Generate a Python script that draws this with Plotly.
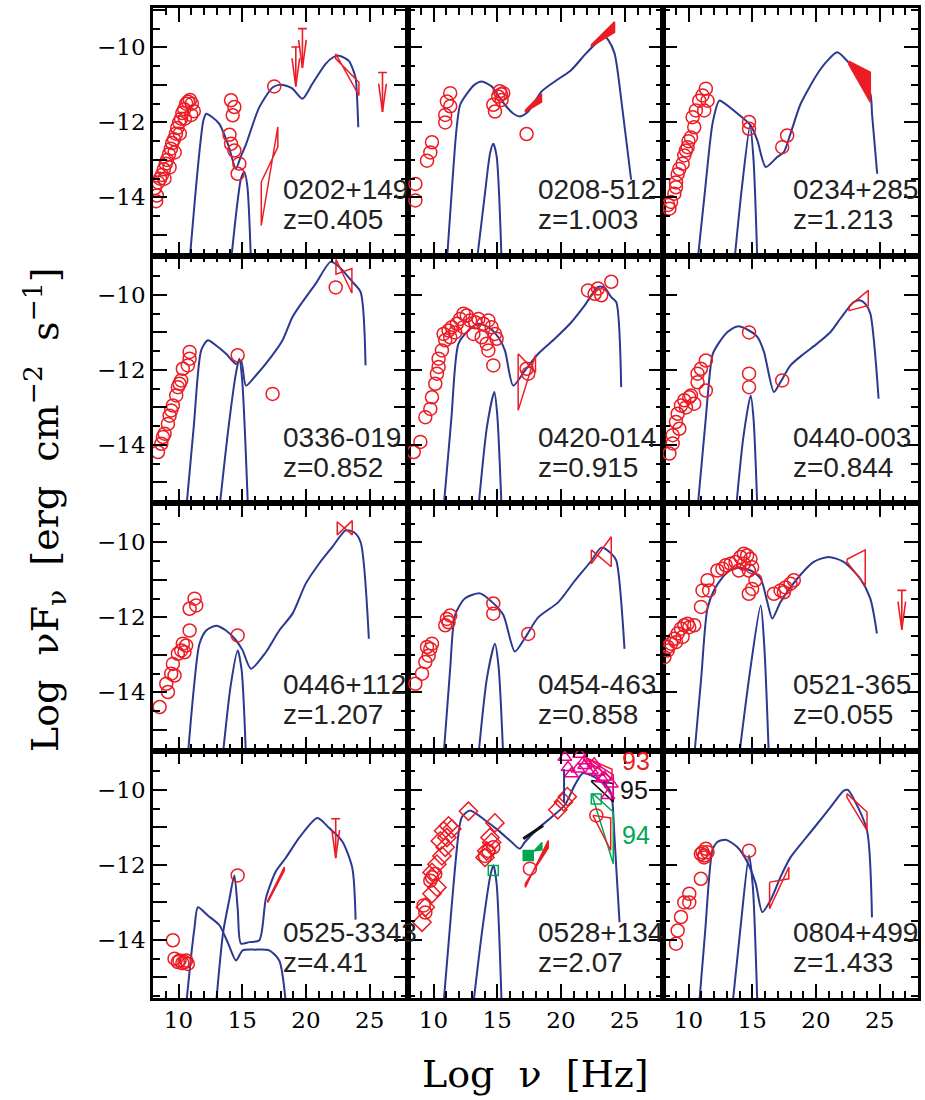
import plotly.graph_objects as go
from plotly.subplots import make_subplots

RED = "#ec1c24"
BLUE = "#2b3990"
GREEN = "#00a651"
MAGENTA = "#ec008c"
BLACK = "#111111"

SOURCES = ["0202+149", "0208-512", "0234+285", "0336-019", "0420-014", "0440-003",
           "0446+112", "0454-463", "0521-365", "0525-3343", "0528+134", "0804+499"]
REDSHIFTS = ["z=0.405", "z=1.003", "z=1.213", "z=0.852", "z=0.915", "z=0.844",
             "z=1.207", "z=0.858", "z=0.055", "z=4.41", "z=2.07", "z=1.433"]

X_RANGE = [8, 28]
Y_RANGE = [-15.55, -8.95]
X_TICKS = [10, 15, 20, 25]
Y_TICKS = [-15, -14, -13, -12, -11, -10, -9]
Y_TICKTEXT = ["", "\u221214", "", "\u221212", "", "\u221210", ""]

# ---------------- 0202+149 ----------------
P1_CIRCLES = [(8.15, -13.75), (8.3, -13.95), (8.25, -14.1), (8.4, -13.6), (8.55, -13.5), (8.7, -13.4),
              (8.85, -13.25), (9.0, -13.1), (9.1, -13.0), (9.25, -12.85), (9.4, -12.7), (9.5, -12.55),
              (9.65, -12.45), (9.8, -12.3), (9.9, -12.15), (10.05, -12.0), (10.2, -11.9), (10.3, -11.75),
              (10.45, -11.65), (10.6, -11.5), (10.75, -11.45), (10.9, -11.4), (11.05, -11.5), (11.0, -11.8),
              (11.2, -11.7), (10.5, -11.9), (10.1, -12.3), (9.7, -12.8), (9.3, -13.2), (8.9, -13.5),
              (14.12, -11.41), (14.38, -11.59), (14.25, -11.81), (14.0, -12.33), (14.12, -12.57),
              (14.38, -12.75), (14.77, -13.1), (14.64, -13.37), (17.51, -11.04)]
P1_MODEL = [(10.87, -15.7), (11.3, -14.0), (11.7, -12.6), (11.95, -11.95), (12.17, -11.77), (12.6, -11.85),
            (13.2, -12.04), (13.9, -12.6), (14.5, -13.23), (14.9, -12.9), (15.3, -12.58), (16.33, -11.6),
            (17.38, -11.07), (17.9, -11.0), (18.5, -11.03), (18.94, -11.1), (19.72, -11.37), (20.5, -10.97),
            (21.54, -10.44), (22.1, -10.27), (22.58, -10.22), (23.36, -10.36), (23.88, -10.8), (24.0, -11.3),
            (24.1, -12.13)]
P1_DISK = [(14.12, -15.7), (14.6, -14.2), (14.9, -13.5), (15.16, -13.32), (15.4, -13.7), (15.68, -15.7)]
P1_BOWTIES = [(16.49, 17.79, -13.59, -12.66, -14.75, -12.12, RED, False),
              (22.33, 24.15, -10.17, -11.28, -10.3, -10.93, RED, False)]
P1_LIMITS = [(19.72, -9.5), (19.2, -9.99), (26.0, -10.67)]

# ---------------- 0208-512 ----------------
P2_CIRCLES = [(8.58, -13.64), (8.58, -14.08), (9.49, -13.02), (9.75, -12.8), (9.88, -12.53), (10.92, -12.0),
              (10.92, -11.8), (11.05, -11.44), (11.31, -11.57), (11.31, -11.22), (14.69, -11.53),
              (14.82, -11.71), (15.08, -11.31), (15.2, -11.17), (15.34, -11.4), (15.47, -11.22),
              (15.3, -11.25), (17.3, -12.31)]
P2_MODEL = [(11.05, -15.7), (11.5, -13.5), (11.8, -12.2), (12.09, -11.53), (12.74, -11.18), (13.2, -11.0),
            (13.78, -10.91), (14.56, -11.04), (15.1, -11.3), (15.6, -11.53), (16.2, -11.75), (16.77, -11.84),
            (17.43, -11.71), (18.47, -11.18), (19.51, -10.91), (20.81, -10.6), (21.86, -10.2), (22.9, -9.84),
            (23.42, -9.71), (23.7, -9.8), (24.2, -10.16), (24.8, -11.6), (25.5, -13.53)]
P2_DISK = [(13.4, -15.7), (14.0, -14.0), (14.45, -12.8), (14.69, -12.57), (14.95, -12.9), (15.34, -15.7)]
P2_BOWTIES = [(17.2, 18.47, -11.68, -11.24, -11.72, -11.46, RED, True),
              (22.38, 24.2, -9.93, -9.32, -9.98, -9.6, RED, True)]
P2_LIMITS = []

# ---------------- 0234+285 ----------------
P3_CIRCLES = [(8.5, -14.3), (8.63, -14.12), (8.89, -13.9), (9.02, -13.6), (9.15, -13.38), (9.54, -13.1),
              (9.67, -12.88), (9.93, -12.66), (10.19, -12.4), (10.45, -12.13), (10.32, -11.86), (10.58, -11.68),
              (10.84, -11.42), (11.1, -11.28), (11.36, -11.1), (11.49, -11.42), (11.23, -11.68), (9.02, -13.73),
              (9.28, -13.24), (8.4, -14.2), (9.8, -12.75), (10.0, -12.5), (14.75, -11.99), (14.75, -12.17),
              (17.74, -12.35), (17.35, -12.66)]
P3_MODEL = [(10.71, -15.7), (11.3, -13.8), (11.9, -12.0), (12.42, -11.42), (12.68, -11.46), (13.86, -11.77),
            (14.88, -12.08), (15.4, -12.48), (16.06, -13.19), (16.97, -12.92), (17.48, -12.79), (18.0, -12.3),
            (18.79, -11.51), (20.1, -10.71), (20.88, -10.36), (21.66, -10.13), (22.44, -10.36), (23.48, -10.84),
            (24.26, -11.24), (24.4, -11.8), (24.8, -13.37)]
P3_DISK = [(13.6, -15.7), (14.2, -13.7), (14.83, -12.08), (15.1, -13.0), (15.4, -15.7)]
P3_BOWTIES = [(22.57, 24.26, -10.37, -10.66, -10.45, -11.46, RED, True)]
P3_LIMITS = []

# ---------------- 0336-019 ----------------
P4_CIRCLES = [(8.39, -14.19), (8.65, -13.97), (8.91, -13.7), (9.17, -13.44), (9.3, -13.22), (9.56, -12.95),
              (9.82, -12.68), (9.95, -12.46), (10.21, -12.28), (10.34, -11.97), (10.73, -11.88), (10.87, -11.7),
              (10.87, -11.52), (10.08, -12.37), (9.43, -13.08), (8.78, -13.79), (14.64, -11.61), (17.38, -12.64),
              (22.33, -9.8)]
P4_MODEL = [(10.61, -15.7), (11.2, -13.5), (11.78, -11.48), (12.3, -11.21), (12.95, -11.35), (13.73, -11.57),
            (14.51, -11.84), (14.9, -11.75), (15.29, -12.42), (16.07, -12.15), (17.25, -11.66), (18.16, -11.21),
            (18.94, -10.59), (19.72, -10.19), (20.76, -9.7), (21.93, -9.12), (22.59, -9.25), (23.63, -9.65),
            (24.28, -9.92), (24.67, -11.88)]
P4_DISK = [(13.21, -15.7), (13.9, -13.6), (14.5, -12.1), (14.77, -11.7), (15.0, -12.3), (15.45, -15.7)]
P4_BOWTIES = [(22.35, 23.6, -9.05, -9.95, -9.45, -9.3, RED, False)]
P4_LIMITS = []

# ---------------- 0420-014 ----------------
P5_CIRCLES = [(8.45, -14.19), (8.97, -13.92), (9.36, -13.26), (9.75, -13.04), (9.88, -12.73), (10.14, -12.37),
              (10.27, -12.1), (10.4, -11.92), (10.4, -11.7), (10.66, -11.48), (10.92, -11.21), (10.79, -11.04),
              (11.18, -10.95), (11.44, -10.86), (11.83, -10.77), (12.09, -10.64), (12.35, -10.5), (12.61, -10.55),
              (12.87, -10.68), (13.26, -10.73), (13.52, -10.64), (13.91, -10.77), (14.3, -10.68), (14.56, -10.86),
              (14.82, -11.04), (14.17, -11.3), (14.3, -11.48), (14.69, -11.88), (11.31, -11.13), (11.7, -11.0),
              (13.13, -11.04), (13.78, -11.13), (14.95, -11.17), (12.35, -10.86), (17.3, -11.97), (17.43, -12.1),
              (22.12, -9.88), (22.64, -9.97), (23.16, -10.01), (23.94, -9.65), (22.9, -9.83)]
P5_MODEL = [(10.79, -15.7), (11.4, -13.3), (11.96, -11.3), (12.74, -10.95), (13.52, -10.77), (14.3, -10.86),
            (15.08, -11.13), (15.6, -11.48), (16.25, -12.42), (17.17, -12.02), (18.21, -11.57), (19.51, -11.17),
            (20.81, -10.73), (21.86, -10.28), (22.9, -9.79), (23.4, -9.8), (23.94, -10.06), (24.33, -10.19),
            (24.72, -12.46)]
P5_DISK = [(13.52, -15.7), (14.2, -13.5), (14.77, -12.59), (15.0, -13.2), (15.34, -15.7)]
P5_BOWTIES = [(16.64, 18.0, -11.57, -12.06, -13.08, -11.6, RED, False)]
P5_LIMITS = []

# ---------------- 0440-003 ----------------
P6_CIRCLES = [(8.5, -14.23), (8.76, -13.96), (8.76, -13.74), (9.02, -13.39), (9.15, -13.17), (9.41, -12.95),
              (9.67, -12.81), (10.06, -12.73), (10.45, -12.9), (10.19, -12.68), (10.71, -12.33), (10.71, -12.1),
              (10.97, -11.97), (11.36, -11.75), (11.36, -12.55), (9.28, -13.57), (9.8, -13.0), (14.75, -11.0),
              (14.75, -12.1), (14.75, -12.46), (17.35, -12.28)]
P6_MODEL = [(10.71, -15.7), (11.3, -13.5), (11.88, -11.6), (12.27, -11.34), (13.06, -10.99), (13.84, -10.84),
            (14.75, -10.95), (15.4, -11.12), (15.92, -11.52), (16.7, -12.59), (17.22, -12.32), (18.0, -11.88),
            (19.05, -11.57), (20.09, -11.3), (21.14, -10.99), (21.92, -10.63), (22.96, -10.19), (23.5, -10.15),
            (23.87, -10.24), (24.26, -10.5), (24.91, -12.77)]
P6_DISK = [(13.73, -15.7), (14.3, -13.8), (14.88, -12.68), (15.1, -13.3), (15.4, -15.7)]
P6_BOWTIES = [(22.6, 24.1, -10.3, -9.88, -10.42, -10.28, RED, False)]
P6_LIMITS = []

# ---------------- 0446+112 ----------------
P7_CIRCLES = [(8.52, -14.39), (9.17, -13.99), (9.04, -13.77), (9.43, -13.5), (9.69, -13.55), (9.56, -13.24),
              (9.95, -12.97), (10.21, -12.88), (10.47, -12.93), (10.34, -12.7), (10.6, -12.75), (10.87, -12.35),
              (10.87, -11.77), (11.26, -11.5), (11.39, -11.68), (14.64, -12.48)]
P7_MODEL = [(10.73, -15.7), (11.2, -13.9), (11.64, -12.71), (12.17, -12.35), (12.95, -12.22), (13.73, -12.35),
            (14.51, -12.61), (15.03, -12.88), (15.68, -13.37), (16.85, -12.93), (17.9, -12.35), (18.94, -11.9),
            (19.98, -11.1), (21.02, -10.57), (22.07, -10.12), (23.11, -9.68), (23.76, -9.73), (24.28, -9.99),
            (24.93, -12.57)]
P7_DISK = [(13.47, -15.7), (14.1, -13.8), (14.64, -12.88), (14.95, -13.4), (15.29, -15.7)]
P7_BOWTIES = [(22.45, 23.63, -9.45, -9.8, -9.8, -9.42, RED, False)]
P7_LIMITS = []

# ---------------- 0454-463 ----------------
P8_CIRCLES = [(8.58, -13.77), (9.1, -13.5), (9.36, -13.19), (9.62, -13.02), (9.75, -12.84), (9.88, -12.7),
              (9.49, -12.79), (10.92, -12.21), (11.05, -12.04), (11.31, -11.95), (11.18, -12.13), (14.69, -11.63),
              (14.69, -11.9), (17.43, -12.44)]
P8_MODEL = [(10.79, -15.7), (11.3, -13.4), (11.7, -11.93), (12.48, -11.49), (13.65, -11.36), (14.56, -11.58),
            (15.47, -11.93), (16.38, -12.91), (17.17, -12.55), (18.21, -12.0), (19.77, -11.6), (21.07, -11.03),
            (22.38, -10.49), (23.16, -10.14), (23.94, -10.3), (24.33, -10.48), (24.98, -12.84)]
P8_DISK = [(13.52, -15.7), (14.2, -13.6), (14.82, -12.7), (15.1, -13.3), (15.47, -15.7)]
P8_BOWTIES = [(22.38, 23.94, -10.2, -10.65, -10.57, -9.85, RED, False)]
P8_LIMITS = []

# ---------------- 0521-365 ----------------
P9_CIRCLES = [(8.11, -13.06), (8.37, -12.88), (8.63, -12.7), (8.89, -12.57), (9.15, -12.43), (9.41, -12.3),
              (9.67, -12.21), (9.93, -12.17), (10.45, -12.21), (8.37, -12.79), (9.02, -12.66), (9.54, -12.52),
              (10.06, -12.26), (10.98, -11.72), (11.1, -11.28), (11.49, -11.01), (11.62, -11.28), (12.27, -10.75),
              (12.66, -10.7), (12.92, -10.61), (13.3, -10.57), (13.69, -10.52), (14.08, -10.39), (14.34, -10.3),
              (14.6, -10.35), (14.86, -10.44), (14.99, -10.66), (14.73, -10.75), (13.95, -10.75), (15.25, -11.01),
              (14.99, -11.24), (14.73, -11.37), (14.34, -10.57), (16.7, -11.37), (17.22, -11.28), (17.61, -11.2),
              (18.0, -11.1), (18.26, -11.01), (17.48, -11.33)]
P9_MODEL = [(10.45, -15.7), (11.0, -13.6), (11.49, -11.76), (12.14, -11.19), (13.06, -10.79), (13.84, -10.68),
            (14.88, -10.75), (15.66, -10.97), (16.18, -11.59), (16.57, -12.03), (17.22, -11.59), (18.52, -10.97),
            (19.82, -10.52), (20.99, -10.39), (22.17, -10.52), (23.47, -10.97), (24.26, -11.5), (24.78, -12.43)]
P9_DISK = [(13.97, -15.7), (14.8, -13.5), (15.66, -11.68), (15.95, -12.8), (16.3, -15.7)]
P9_BOWTIES = [(22.43, 23.86, -10.45, -10.2, -10.52, -11.15, RED, False)]
P9_LIMITS = [(26.73, -11.28)]

# ---------------- 0525-3343 ----------------
P10_CIRCLES = [(9.56, -14.01), (9.69, -14.5), (10.08, -14.55), (10.47, -14.59), (10.73, -14.64), (10.6, -14.55),
               (9.95, -14.59), (10.3, -14.62), (14.64, -12.28)]
P10_MODEL = [(12.95, -15.7), (13.5, -13.8), (14.0, -12.9), (14.38, -12.28), (14.65, -13.2), (14.9, -14.1),
             (15.55, -14.06), (16.34, -14.01), (16.86, -12.88), (17.64, -12.17), (18.42, -11.81), (19.46, -11.28),
             (20.89, -10.75), (21.8, -11.01), (22.84, -11.37), (23.63, -12.08), (23.89, -13.46)]
P10_JET = [(10.61, -15.7), (11.0, -14.4), (11.26, -13.66), (11.52, -13.13), (12.3, -13.35), (13.21, -13.61),
           (13.9, -14.1), (14.51, -14.55), (15.03, -14.28), (16.0, -14.26), (17.12, -14.28), (17.9, -14.55),
           (18.42, -15.7)]
P10_BOWTIES = [(17.0, 18.3, -12.95, -12.06, -13.0, -12.15, RED, True)]
P10_LIMITS = [(22.33, -10.77)]

# ---------------- 0528+134 ----------------
P11_DIAMONDS = [(9.1, -13.53), (9.36, -13.13), (9.88, -12.77), (10.27, -12.6), (9.88, -12.2), (10.27, -11.98),
                (10.66, -11.76), (10.92, -11.53), (11.05, -11.27), (11.44, -11.04), (11.18, -10.96), (10.79, -11.09),
                (10.53, -11.36), (12.74, -10.57), (14.82, -10.88), (14.43, -11.27), (14.17, -11.63), (14.56, -11.4),
                (14.04, -11.8), (19.75, -10.53), (20.2, -10.32), (20.5, -10.18)]
P11_CIRCLES = [(9.23, -13.08), (9.36, -13.27), (9.88, -12.33), (10.14, -12.24), (9.75, -12.42), (14.04, -11.76),
               (14.3, -11.63), (14.69, -11.53), (17.56, -12.1), (22.77, -10.68)]
P11_GREEN_OPEN = [(14.69, -12.15), (22.77, -10.24)]
P11_GREEN_FILLED = [(17.43, -11.75)]
P11_TRIANGLES = [(20.3, -9.13), (21.47, -9.05), (20.81, -9.57), (21.34, -9.44), (21.86, -9.35), (22.38, -9.48),
                 (22.9, -9.53), (23.42, -9.66), (23.94, -9.84), (23.68, -10.15), (21.86, -9.22), (20.55, -9.4),
                 (22.6, -9.3), (23.2, -9.7)]
P11_MODEL = [(10.79, -15.7), (11.4, -13.2), (11.96, -11.17), (12.22, -10.73), (12.87, -10.55), (14.04, -10.81),
             (15.08, -11.08), (16.12, -11.39), (16.77, -11.57), (17.17, -11.39), (18.21, -11.03), (19.25, -10.73),
             (20.29, -10.41), (21.07, -9.88), (21.73, -9.55), (22.64, -9.66), (23.55, -9.88), (23.94, -10.1),
             (24.2, -11.3), (24.59, -13.53)]
P11_DISK = [(13.13, -15.7), (13.8, -13.8), (14.45, -12.3), (14.7, -12.01), (14.95, -12.5), (15.34, -15.7)]
P11_BOWTIES = [(17.2, 19.0, -12.6, -11.35, -12.5, -11.55, RED, True),
               (17.3, 18.5, -11.85, -11.4, -11.65, -11.6, GREEN, True),
               (22.5, 24.1, -10.1, -10.59, -10.2, -11.97, GREEN, False),
               (22.5, 23.9, -10.68, -10.75, -10.72, -11.61, RED, False),
               (22.4, 24.1, -9.75, -9.83, -9.78, -10.32, BLACK, False),
               (21.8, 24.1, -9.1, -9.6, -9.2, -10.2, MAGENTA, False),
               (22.0, 24.0, -9.15, -9.45, -9.2, -9.7, RED, False)]
P11_BLACK_LINE = [(17.04, -11.3), (18.6, -10.95)]
P11_BLUE_BAR = [(20.24, -9.45), (20.24, -10.34)]
P11_EPOCHS = [("93", 24.59, -9.24, RED), ("95", 24.46, -9.99, BLACK), ("94", 24.59, -11.21, GREEN)]

# ---------------- 0804+499 ----------------
P12_CIRCLES = [(9.02, -14.1), (9.15, -13.75), (9.41, -13.39), (9.67, -13.0), (10.06, -12.77), (10.06, -13.0),
               (10.97, -12.37), (11.23, -11.8), (11.1, -11.66), (11.36, -11.57), (11.49, -11.66), (11.23, -11.75),
               (10.97, -11.71), (14.75, -11.62)]
P12_MODEL = [(10.84, -15.7), (11.3, -13.8), (11.88, -11.61), (12.27, -11.39), (12.92, -11.33), (13.84, -11.53),
             (14.62, -11.93), (15.27, -12.5), (15.79, -13.26), (16.44, -12.94), (17.22, -12.32), (18.0, -11.8),
             (19.04, -11.35), (20.09, -10.91), (21.14, -10.46), (22.18, -10.02), (22.5, -10.0), (22.96, -10.24),
             (24.0, -11.08), (24.39, -13.4)]
P12_DISK = [(13.46, -15.7), (14.1, -13.6), (14.75, -11.75), (15.05, -12.6), (15.4, -15.7)]
P12_BOWTIES = [(16.36, 17.87, -12.46, -12.37, -13.17, -12.06, RED, False),
               (22.43, 24.0, -10.1, -10.59, -10.2, -11.08, RED, False)]
P12_LIMITS = []

PANELS = [
    dict(circles=P1_CIRCLES, curves=[P1_MODEL, P1_DISK], bowties=P1_BOWTIES, limits=P1_LIMITS),
    dict(circles=P2_CIRCLES, curves=[P2_MODEL, P2_DISK], bowties=P2_BOWTIES, limits=P2_LIMITS),
    dict(circles=P3_CIRCLES, curves=[P3_MODEL, P3_DISK], bowties=P3_BOWTIES, limits=P3_LIMITS),
    dict(circles=P4_CIRCLES, curves=[P4_MODEL, P4_DISK], bowties=P4_BOWTIES, limits=P4_LIMITS),
    dict(circles=P5_CIRCLES, curves=[P5_MODEL, P5_DISK], bowties=P5_BOWTIES, limits=P5_LIMITS),
    dict(circles=P6_CIRCLES, curves=[P6_MODEL, P6_DISK], bowties=P6_BOWTIES, limits=P6_LIMITS),
    dict(circles=P7_CIRCLES, curves=[P7_MODEL, P7_DISK], bowties=P7_BOWTIES, limits=P7_LIMITS),
    dict(circles=P8_CIRCLES, curves=[P8_MODEL, P8_DISK], bowties=P8_BOWTIES, limits=P8_LIMITS),
    dict(circles=P9_CIRCLES, curves=[P9_MODEL, P9_DISK], bowties=P9_BOWTIES, limits=P9_LIMITS),
    dict(circles=P10_CIRCLES, curves=[P10_MODEL, P10_JET], bowties=P10_BOWTIES, limits=P10_LIMITS),
    dict(circles=P11_CIRCLES, curves=[P11_MODEL, P11_DISK], bowties=P11_BOWTIES, limits=[]),
    dict(circles=P12_CIRCLES, curves=[P12_MODEL, P12_DISK], bowties=P12_BOWTIES, limits=P12_LIMITS),
]

fig = make_subplots(rows=4, cols=3, horizontal_spacing=0, vertical_spacing=0)


def xs(pts):
    return [p[0] for p in pts]


def ys(pts):
    return [p[1] for p in pts]


def add_markers(pts, r, c, symbol, color, size=13):
    if not pts:
        return
    fig.add_trace(go.Scatter(x=xs(pts), y=ys(pts), mode="markers",
                             marker=dict(symbol=symbol, size=size, color=color,
                                         line=dict(width=1.5, color=color)),
                             showlegend=False, hoverinfo="skip"), row=r, col=c)


for i, p in enumerate(PANELS):
    r, c = i // 3 + 1, i % 3 + 1
    for curve in p["curves"]:
        fig.add_trace(go.Scatter(x=xs(curve), y=ys(curve), mode="lines",
                                 line=dict(color=BLUE, width=2, shape="spline", smoothing=0.7),
                                 showlegend=False, hoverinfo="skip"), row=r, col=c)
    for (x1, x2, a1, a2, b1, b2, col, filled) in p["bowties"]:
        fig.add_trace(go.Scatter(x=[x1, x2, x2, x1, x1], y=[a1, a2, b2, b1, a1], mode="lines",
                                 line=dict(color=col, width=1.5),
                                 fill="toself" if filled else None,
                                 fillcolor=col if filled else None,
                                 showlegend=False, hoverinfo="skip"), row=r, col=c)
    for (ux, uy) in p["limits"]:
        length = 1.05
        lx = [ux - 0.35, ux + 0.35, None, ux, ux, None, ux - 0.3, ux, ux + 0.3]
        ly = [uy, uy, None, uy, uy - length, None, uy - 0.3, uy - length, uy - 0.3]
        fig.add_trace(go.Scatter(x=lx, y=ly, mode="lines", line=dict(color=RED, width=1.6),
                                 showlegend=False, hoverinfo="skip"), row=r, col=c)
    add_markers(p["circles"], r, c, "circle-open", RED)

# extras for 0528+134
r, c = 4, 2
add_markers(P11_DIAMONDS, r, c, "diamond-open", RED, size=14)
add_markers(P11_GREEN_OPEN, r, c, "square-open", GREEN, size=10)
add_markers(P11_GREEN_FILLED, r, c, "square", GREEN, size=10)
add_markers(P11_TRIANGLES, r, c, "triangle-up-open", MAGENTA, size=12)
fig.add_trace(go.Scatter(x=xs(P11_BLACK_LINE), y=ys(P11_BLACK_LINE), mode="lines",
                         line=dict(color=BLACK, width=3), showlegend=False, hoverinfo="skip"), row=r, col=c)
fig.add_trace(go.Scatter(x=xs(P11_BLUE_BAR), y=ys(P11_BLUE_BAR), mode="lines",
                         line=dict(color=BLUE, width=2), showlegend=False, hoverinfo="skip"), row=r, col=c)

LABEL_FONT = dict(family="Liberation Sans, Arial", size=28, color="#222")
annotations = []
for i in range(12):
    n = i + 1
    suffix = "" if n == 1 else str(n)
    annotations.append(dict(x=18.05, y=-13.8, xref="x" + suffix, yref="y" + suffix, text=SOURCES[i],
                            showarrow=False, xanchor="left", yanchor="middle", font=LABEL_FONT))
    annotations.append(dict(x=18.05, y=-14.6, xref="x" + suffix, yref="y" + suffix, text=REDSHIFTS[i],
                            showarrow=False, xanchor="left", yanchor="middle", font=LABEL_FONT))
for (txt, tx, ty, col) in P11_EPOCHS:
    annotations.append(dict(x=tx, y=ty, xref="x11", yref="y11", text=txt, showarrow=False,
                            xanchor="left", yanchor="middle",
                            font=dict(family="Liberation Sans, Arial", size=25, color=col)))

annotations.append(dict(x=0.5, y=-0.0763, xref="paper", yref="paper",
                        text="Log  \u03bd  [Hz]", showarrow=False, xanchor="center", yanchor="middle",
                        font=dict(family="DejaVu Serif", size=38, color="black")))
annotations.append(dict(x=-0.141, y=0.493, xref="paper", yref="paper", textangle=-90,
                        text="Log  \u03bdF<sub>\u03bd</sub>  [erg  cm<sup>\u22122</sup>  s<sup>\u22121</sup>]",
                        showarrow=False, xanchor="center", yanchor="middle",
                        font=dict(family="DejaVu Serif", size=38, color="black")))

fig.update_xaxes(range=X_RANGE, showline=True, linewidth=2.5, linecolor="black", mirror="allticks",
                 ticks="inside", tickmode="array", tickvals=X_TICKS, ticklen=14, tickwidth=1.6,
                 tickcolor="black", showgrid=False, zeroline=False, showticklabels=False,
                 minor=dict(dtick=1, tick0=0, ticks="inside", ticklen=7, tickwidth=1.5, tickcolor="black",
                            showgrid=False),
                 tickfont=dict(family="DejaVu Serif", size=23, color="black"))
fig.update_yaxes(range=Y_RANGE, showline=True, linewidth=2.5, linecolor="black", mirror="allticks",
                 ticks="inside", tickmode="array", tickvals=Y_TICKS, ticktext=Y_TICKTEXT, ticklen=14,
                 tickwidth=1.6, tickcolor="black", showgrid=False, zeroline=False, showticklabels=False,
                 minor=dict(dtick=0.5, tick0=0, ticks="inside", ticklen=7, tickwidth=1.5, tickcolor="black",
                            showgrid=False),
                 tickfont=dict(family="DejaVu Serif", size=23, color="black"))
for c in range(1, 4):
    fig.update_xaxes(showticklabels=True, row=4, col=c)
for r in range(1, 5):
    fig.update_yaxes(showticklabels=True, row=r, col=1)

fig.update_layout(width=925, height=1100, margin=dict(l=153, r=4, t=8, b=102),
                  paper_bgcolor="white", plot_bgcolor="white", showlegend=False,
                  annotations=annotations)

fig.write_html("out.html", config={"displayModeBar": False},
               post_script="document.body.style.margin='0';")
